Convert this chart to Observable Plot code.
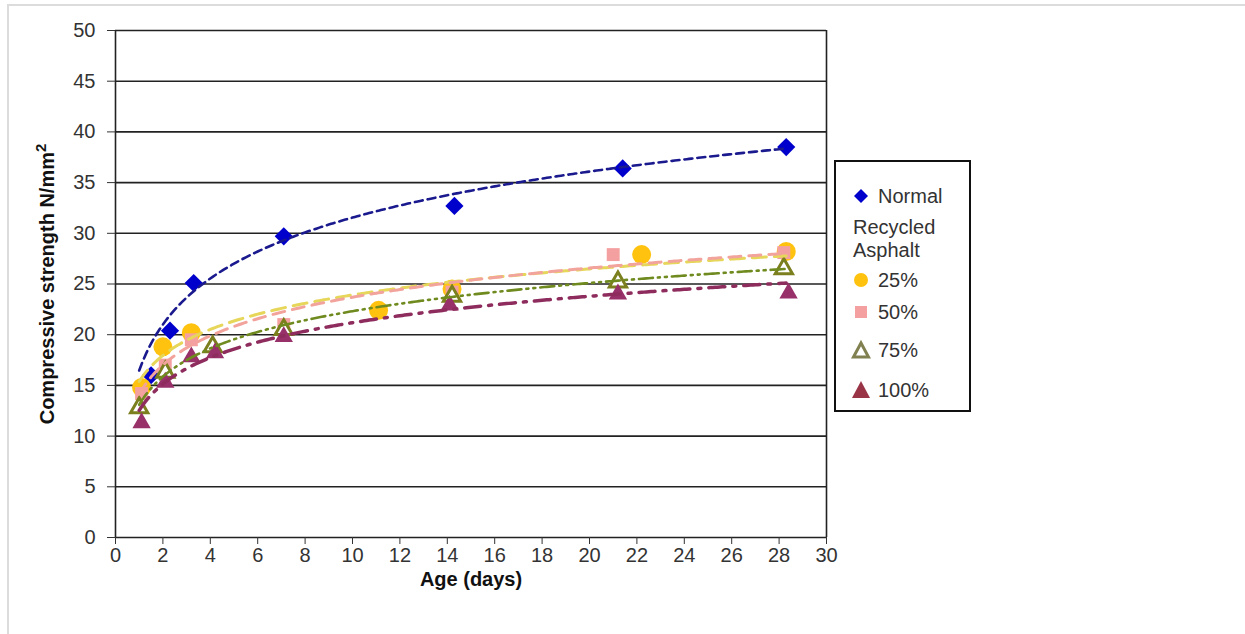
<!DOCTYPE html>
<html><head><meta charset="utf-8">
<script src="https://cdn.jsdelivr.net/npm/d3@7"></script>
<script src="https://cdn.jsdelivr.net/npm/@observablehq/plot@0.6"></script>
<style>
body{margin:0;background:#fff;font-family:"Liberation Sans",Arial,sans-serif;}
#wrap{position:relative;width:1245px;height:634px;overflow:hidden;}
#border{position:absolute;left:7px;top:4px;width:1240px;height:640px;border-left:2px solid #dcdcdc;border-top:2px solid #dcdcdc;}
#chart{position:absolute;left:0;top:0;}
#legend{position:absolute;left:834px;top:160px;width:133px;height:248px;border:2px solid #111;background:#fff;font-size:20px;color:#333;}
.item{position:absolute;height:22px;line-height:22px;white-space:nowrap;}
.sym{position:absolute;left:14px;width:22px;height:22px;}
svg g[aria-label="x-axis label"], svg g[aria-label="y-axis label"]{font-weight:bold;fill:#111;}
</style>
</head><body>
<div id="wrap"><div id="border"></div><div id="chart"></div>
<div id="legend">
  <div class="sym" style="top:23px"><svg width="22" height="22"><path d="M11,4L18,11L11,18L4,11Z" fill="#0000cc"/></svg></div>
  <div class="item" style="left:42px;top:23px">Normal</div>
  <div class="item" style="left:17px;top:54px">Recycled</div>
  <div class="item" style="left:17px;top:77px">Asphalt</div>
  <div class="sym" style="top:107px"><svg width="22" height="22"><circle cx="11" cy="11" r="7" fill="#ffc20e"/></svg></div>
  <div class="item" style="left:42px;top:107px">25%</div>
  <div class="sym" style="top:139px"><svg width="22" height="22"><rect x="5" y="5" width="12" height="12" fill="#f5a0a0"/></svg></div>
  <div class="item" style="left:42px;top:139px">50%</div>
  <div class="sym" style="top:177px"><svg width="22" height="22"><path d="M11,4L18.5,18H3.5Z" fill="#fff" stroke="#808050" stroke-width="3" stroke-linejoin="miter"/></svg></div>
  <div class="item" style="left:42px;top:177px">75%</div>
  <div class="sym" style="top:217px"><svg width="22" height="22"><path d="M11,2L20,19H2Z" fill="#993346"/></svg></div>
  <div class="item" style="left:42px;top:217px">100%</div>
</div>
</div>
<script>
// ---- data ----
const xTicks = [0,2,4,6,8,10,12,14,16,18,20,22,24,26,28,30];
const yTicks = [0,5,10,15,20,25,30,35,40,45,50];

// marker positions as drawn, plus the nominal test ages used for each trendline
const normalDays = [1.5, 2.3, 3.3, 7.1, 14.3, 21.4, 28.3];
const normalAges = [1, 2, 3, 7, 14, 21, 28];
const normalStrength = [16.0, 20.4, 25.1, 29.7, 32.7, 36.4, 38.5];

const ra25Days = [1.1, 2.0, 3.2, 11.1, 14.2, 22.2, 28.3];
const ra25Ages = [1, 2, 3, 11, 14, 22, 28];
const ra25Strength = [14.8, 18.8, 20.2, 22.4, 24.5, 27.9, 28.2];

const ra50Days = [1.1, 2.1, 3.2, 7.1, 14.2, 21.0, 28.2];
const ra50Ages = [1, 2, 3, 7, 14, 21, 28];
const ra50Strength = [14.2, 17.0, 19.5, 21.0, 24.2, 27.9, 28.1];

const ra75Days = [1.0, 2.1, 4.1, 7.1, 14.2, 21.2, 28.2];
const ra75Ages = [1, 2, 4, 7, 14, 21, 28];
const ra75Strength = [12.8, 16.3, 18.8, 20.5, 23.8, 25.2, 26.5];

const ra100Days = [1.1, 2.1, 3.2, 4.2, 7.1, 14.1, 21.2, 28.4];
const ra100Ages = [1, 2, 3, 4, 7, 14, 21, 28];
const ra100Strength = [11.3, 15.3, 17.8, 18.2, 19.8, 22.9, 24.0, 24.1];

// ---- build tables ----
const pts = (xs, ys) => xs.map((x, i) => ({x, y: ys[i]}));
function logTrend(xs, ys) {
  const lx = xs.map(Math.log);
  const mx = d3.mean(lx), my = d3.mean(ys);
  const b = d3.sum(lx, (v, i) => (v - mx) * (ys[i] - my)) / d3.sum(lx, v => (v - mx) ** 2);
  const a = my - b * mx;
  return d3.range(1, 28.31, 0.1).map(x => ({x, y: a + b * Math.log(x)}));
}

const series = [
  {days: normalDays, ages: normalAges, vals: normalStrength, symbol: "diamond2", r: 8.2, fill: "#0000cc", line: "#1a1a8e", dash: "8,5", lw: 2.6},
  {days: ra25Days, ages: ra25Ages, vals: ra25Strength, symbol: "circle", r: 9.5, fill: "#ffc20e", line: "#e6d65a", dash: "14,8", lw: 3},
  {days: ra50Days, ages: ra50Ages, vals: ra50Strength, symbol: "square", r: 7.3, fill: "#f5a0a0", line: "#f2a49c", dash: "12,8", lw: 3},
  {days: ra75Days, ages: ra75Ages, vals: ra75Strength, symbol: "triangle", r: 6.4, fill: "#fff", stroke: "#7b7f1e", line: "#6f8a1e", dash: "14,5,2,5,2,5", lw: 2.6},
  {days: ra100Days, ages: ra100Ages, vals: ra100Strength, symbol: "triangle", r: 6.8, fill: "#98306a", line: "#8e2c5e", dash: "16,8,3,8", lw: 3.5}
];

const marks = [
  Plot.ruleY(yTicks, {stroke: "#222", strokeWidth: 1.6}),
  Plot.ruleX([0, 30], {stroke: "#222", strokeWidth: 1.6})
];
for (const s of series) {
  marks.push(Plot.dot(pts(s.days, s.vals), {
    x: "x", y: "y", symbol: () => s.symbol, r: s.r,
    fill: s.fill, stroke: s.stroke || "none", strokeWidth: s.stroke ? 3 : 0
  }));
}
for (const s of series) {
  marks.push(Plot.line(logTrend(s.ages, s.vals), {
    x: "x", y: "y", stroke: s.line, strokeWidth: s.lw, strokeDasharray: s.dash, curve: "linear"
  }));
}
marks.push(Plot.axisX(xTicks, {tickSize: 7, tickPadding: 3, fontSize: 20, label: "Age (days)", labelAnchor: "center", labelOffset: 48, labelArrow: "none"}));
marks.push(Plot.axisY(yTicks, {tickSize: 8, tickPadding: 12, fontSize: 20, label: "Compressive strength N/mm2", labelAnchor: "center", labelOffset: 76, labelArrow: "none"}));

const chart = Plot.plot({
  width: 1245, height: 634,
  marginLeft: 115, marginRight: 419, marginTop: 30, marginBottom: 97,
  style: {fontFamily: "'Liberation Sans', Arial, sans-serif", fontSize: "20px", color: "#333", background: "transparent", overflow: "visible"},
  x: {domain: [0, 30]},
  y: {domain: [0, 50]},
  marks
});
document.getElementById("chart").appendChild(chart);
// superscript the "2" in the unit
const yl = chart.querySelector('g[aria-label="y-axis label"] text');
if (yl) {
  yl.textContent = "Compressive strength N/mm";
  const sup = document.createElementNS("http://www.w3.org/2000/svg", "tspan");
  sup.setAttribute("dy", "-0.5em");
  sup.setAttribute("font-size", "15");
  sup.textContent = "2";
  yl.appendChild(sup);
}
</script>
</body></html>
